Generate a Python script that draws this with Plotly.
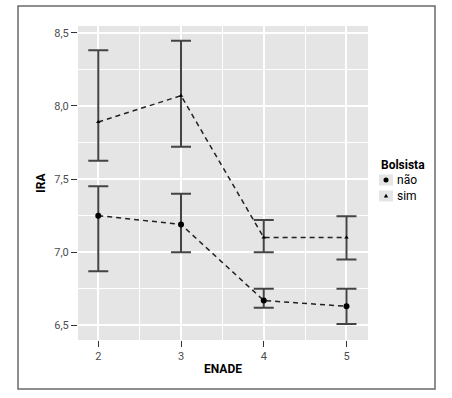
import plotly.graph_objects as go

enade = [2, 3, 4, 5]
nao_mean = [7.25, 7.19, 6.67, 6.63]
nao_upper = [7.45, 7.40, 6.75, 6.75]
nao_lower = [6.87, 7.00, 6.62, 6.51]
sim_mean = [7.89, 8.07, 7.10, 7.10]
sim_upper = [8.38, 8.445, 7.22, 7.245]
sim_lower = [7.625, 7.72, 7.00, 6.95]
legend_title = "Bolsista"
legend_labels = ["não", "sim"]

FONT = "Roboto, Liberation Sans Narrow, sans-serif"
ERR_COLOR = "#444444"
DASH = "5px,4px"

# plot-area geometry in pixels (used to place legend / frame in paper coords)
L, R, T, B = 78, 368, 26, 340
def px(x):
    return (x - L) / (R - L)
def py(y):
    return (B - y) / (B - T)

def err(mean, up, lo):
    return dict(type="data", symmetric=False,
                array=[u - m for u, m in zip(up, mean)],
                arrayminus=[m - l for m, l in zip(mean, lo)],
                color=ERR_COLOR, thickness=2, width=10)

fig = go.Figure()
fig.add_trace(go.Scatter(
    x=enade, y=nao_mean, name=legend_labels[0], mode="lines+markers",
    line=dict(color="#222222", dash=DASH, width=1.5),
    marker=dict(symbol="circle", size=6, color="black"),
    error_y=err(nao_mean, nao_upper, nao_lower), showlegend=False))
fig.add_trace(go.Scatter(
    x=enade, y=sim_mean, name=legend_labels[1], mode="lines+markers",
    line=dict(color="#222222", dash=DASH, width=1.5),
    marker=dict(symbol="triangle-up", size=4, color="black"),
    error_y=err(sim_mean, sim_upper, sim_lower), showlegend=False))

axis_common = dict(
    showgrid=True, gridcolor="white", gridwidth=1.6,
    zeroline=False, showline=False, automargin=False,
    ticks="outside", ticklen=6, tickwidth=1.2, tickcolor="#333333",
    tickfont=dict(family=FONT, size=11, color="#4d4d4d"),
)

fig.update_layout(
    width=452, height=398,
    margin=dict(l=L, r=452 - R, t=T, b=398 - B),
    paper_bgcolor="white", plot_bgcolor="#e5e5e5",
    separators=",.",
    font=dict(family=FONT, size=12, color="black"),
    xaxis=dict(range=[1.755, 5.26], tickvals=enade,
               title=dict(text="<b>ENADE</b>", font=dict(family=FONT, size=12), standoff=2),
               minor=dict(showgrid=True, gridcolor="white", gridwidth=0.7, tickvals=[2.5, 3.5, 4.5]),
               **axis_common),
    yaxis=dict(range=[6.40, 8.546], tickvals=[6.5, 7.0, 7.5, 8.0, 8.5], tickformat=".1f",
               title=dict(text="<b>IRA</b>", font=dict(family=FONT, size=12), standoff=6),
               minor=dict(showgrid=True, gridcolor="white", gridwidth=0.7, tickvals=[6.75, 7.25, 7.75, 8.25]),
               **axis_common),
    showlegend=False,
)

# legend (ggplot style: gray key boxes)
fig.add_annotation(xref="paper", yref="paper", x=px(379), y=py(165), xanchor="left", yanchor="middle",
                   text="<b>" + legend_title + "</b>", showarrow=False, font=dict(family=FONT, size=12))
key_y = [180, 196]
for lab, ky in zip(legend_labels, key_y):
    fig.add_shape(type="rect", xref="paper", yref="paper", x0=px(379), x1=px(393),
                  y0=py(ky + 5.5), y1=py(ky - 5.5), fillcolor="#e5e5e5", line=dict(width=0))
    fig.add_annotation(xref="paper", yref="paper", x=px(395), y=py(ky), xanchor="left", yanchor="middle",
                       text=lab, showarrow=False, font=dict(family=FONT, size=12))
# key glyphs
fig.add_shape(type="circle", xref="paper", yref="paper", x0=px(383.5), x1=px(388.5),
              y0=py(key_y[0] + 2.5), y1=py(key_y[0] - 2.5), fillcolor="black", line=dict(width=0))
tx, ty = 386, key_y[1]
fig.add_shape(type="path", xref="paper", yref="paper",
              path=f"M {px(tx-2.2)} {py(ty+1.6)} L {px(tx+2.2)} {py(ty+1.6)} L {px(tx)} {py(ty-2.2)} Z",
              fillcolor="black", line=dict(width=0))

# outer frame
fig.add_shape(type="rect", xref="paper", yref="paper",
              x0=px(18), x1=px(435), y0=py(389), y1=py(6),
              line=dict(color="#6a6a6a", width=1.5), fillcolor="rgba(0,0,0,0)", layer="below")

fig.write_html("out.html", config={"displayModeBar": False},
               post_script="document.body.style.margin='0';document.body.style.padding='0';")
